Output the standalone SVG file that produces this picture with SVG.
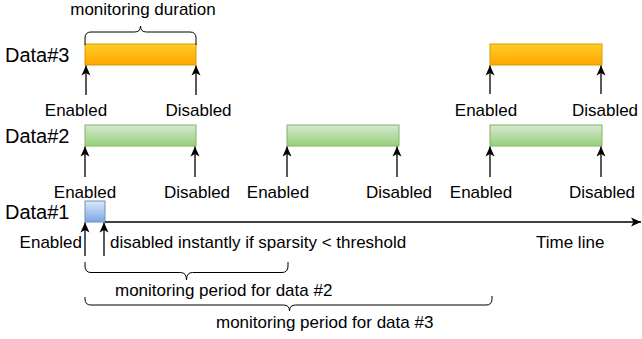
<svg xmlns="http://www.w3.org/2000/svg" width="642" height="339" viewBox="0 0 642 339">
<style>
text{font-family:"Liberation Sans",Arial,Helvetica,sans-serif;fill:#000}
.lbl{font-size:17px;text-anchor:middle}
.t17{font-size:17px}
.data{font-size:20px}
.arr{stroke:#000;stroke-width:1.3;fill:none;marker-end:url(#ah)}
.brace{stroke:#000;stroke-width:1;fill:none}
.or{fill:url(#gOr);stroke:#d79b00;stroke-width:1}
.gr{fill:url(#gGr);stroke:#82b366;stroke-width:1}
.bl{fill:url(#gBl);stroke:#6c8ebf;stroke-width:1}
</style>
<defs>
<linearGradient id="gOr" x1="0" y1="0" x2="0" y2="1"><stop offset="0" stop-color="#ffcd28"/><stop offset="1" stop-color="#ffa500"/></linearGradient>
<linearGradient id="gGr" x1="0" y1="0" x2="0" y2="1"><stop offset="0" stop-color="#d5e8d4"/><stop offset="1" stop-color="#97d077"/></linearGradient>
<linearGradient id="gBl" x1="0" y1="0" x2="0" y2="1"><stop offset="0" stop-color="#dae8fc"/><stop offset="1" stop-color="#7ea6e0"/></linearGradient>
<marker id="ah" markerUnits="userSpaceOnUse" markerWidth="10" markerHeight="10" viewBox="0 0 10 10" refX="10" refY="5" orient="auto"><path d="M0,0.5 L10,5 L0,9.5 L2.5,5 z" fill="#000"/></marker>
</defs>

<g id="labels">
<text class="data" x="5" y="62">Data#3</text>
<text class="data" x="5" y="143">Data#2</text>
<text class="data" x="5" y="219">Data#1</text>
</g>

<g id="data3-bar1"><rect class="or" x="85" y="44" width="111" height="21"/></g>
<g id="data3-bar2"><rect class="or" x="490" y="44" width="112" height="21"/></g>
<g id="data2-bar1"><rect class="gr" x="85" y="125" width="111" height="21"/></g>
<g id="data2-bar2"><rect class="gr" x="287" y="125" width="112" height="21"/></g>
<g id="data2-bar3"><rect class="gr" x="490" y="125" width="112" height="21"/></g>
<g id="data1-box"><rect class="bl" x="85" y="201" width="20" height="21"/></g>

<g id="connectors">
<line class="arr" x1="105" y1="222" x2="641" y2="222"/>
<line class="arr" x1="86" y1="95" x2="86" y2="65.5"/>
<line class="arr" x1="196" y1="95" x2="196" y2="65.5"/>
<line class="arr" x1="490" y1="94" x2="490" y2="65.5"/>
<line class="arr" x1="601" y1="94" x2="601" y2="65.5"/>
<line class="arr" x1="85" y1="177" x2="85" y2="146.5"/>
<line class="arr" x1="195" y1="177" x2="195" y2="146.5"/>
<line class="arr" x1="287" y1="177" x2="287" y2="146.5"/>
<line class="arr" x1="397" y1="177" x2="397" y2="146.5"/>
<line class="arr" x1="490" y1="177" x2="490" y2="146.5"/>
<line class="arr" x1="601" y1="177" x2="601" y2="146.5"/>
<line class="arr" x1="85" y1="256" x2="85" y2="222.5"/>
<line class="arr" x1="104" y1="256" x2="104" y2="222.5"/>
</g>

<g id="braces">
<path class="brace" d="M85,45 V38 Q85,32 91,32 H134.5 Q140.5,32 140.5,26 Q140.5,32 146.5,32 H190 Q196,32 196,38 V45"/>
<path class="brace" d="M85,262 V266 Q85,272.5 91,272.5 H180.5 Q186.5,272.5 186.5,280 Q186.5,272.5 192.5,272.5 H282 Q288,272.5 288,266 V262"/>
<path class="brace" d="M85,297 V299 Q85,305 91,305 H283.5 Q289.5,305 289.5,311 Q289.5,305 295.5,305 H486 Q492,305 492,299 V296"/>
</g>

<g id="texts">
<text x="143" y="15" style="font-size:17px;text-anchor:middle">monitoring duration</text>
<text class="lbl" x="76" y="116">Enabled</text>
<text class="lbl" x="198.5" y="116">Disabled</text>
<text class="lbl" x="486" y="116">Enabled</text>
<text class="lbl" x="605" y="116">Disabled</text>
<text class="lbl" x="85" y="198">Enabled</text>
<text class="lbl" x="197" y="198">Disabled</text>
<text class="lbl" x="278" y="198">Enabled</text>
<text class="lbl" x="399" y="198">Disabled</text>
<text class="lbl" x="481" y="198">Enabled</text>
<text class="lbl" x="602" y="198">Disabled</text>
<text class="t17" x="82" y="248" text-anchor="end">Enabled</text>
<text class="t17" x="110" y="248">disabled instantly if sparsity &lt; threshold</text>
<text class="t17" x="536" y="248">Time line</text>
<text class="t17" x="115" y="296">monitoring period for data #2</text>
<text class="t17" x="216" y="328">monitoring period for data #3</text>
</g>
</svg>
